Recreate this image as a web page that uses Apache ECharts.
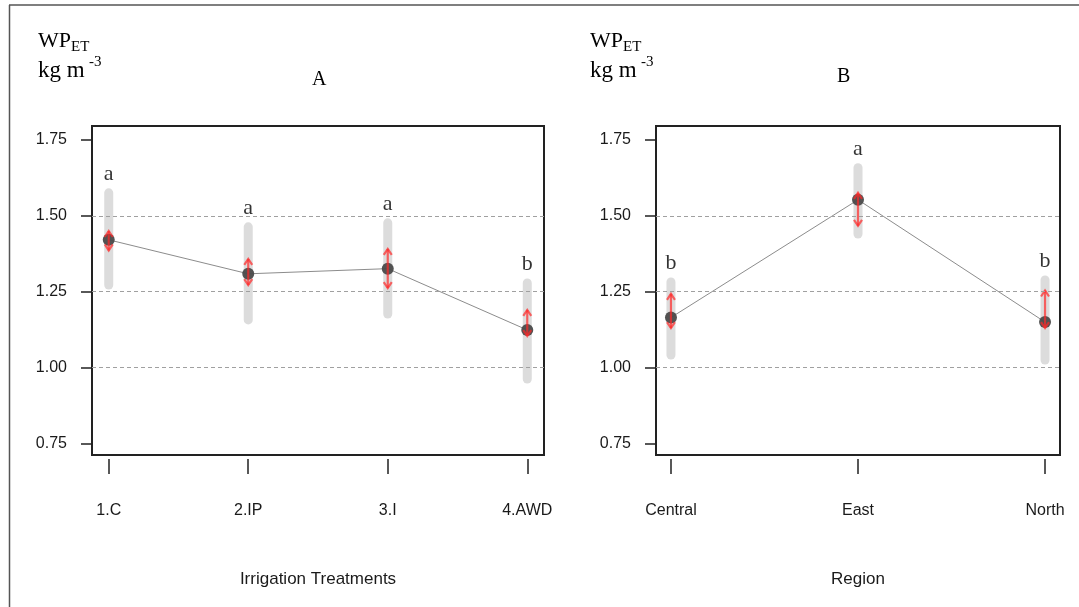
<!DOCTYPE html>
<html>
<head>
<meta charset="utf-8">
<script src="https://cdn.jsdelivr.net/npm/echarts@6/dist/echarts.min.js"></script>
<style>
  html, body { margin: 0; padding: 0; background: #fff; }
  #chart { width: 1079px; height: 607px; }
</style>
</head>
<body>
<div id="chart"></div>
<script>
// Panel A: irrigation treatments
const catsA = ['1.C', '2.IP', '3.I', '4.AWD'];
const meanA = [1.421, 1.309, 1.326, 1.124];
const ciLowA = [1.259, 1.144, 1.163, 0.949];
const ciHighA = [1.589, 1.477, 1.490, 1.292];
const arrLowA = [1.386, 1.272, 1.262, 1.104];
const arrHighA = [1.450, 1.358, 1.391, 1.190];
const lettersA = ['a', 'a', 'a', 'b'];

// Panel B: regions
const catsB = ['Central', 'East', 'North'];
const meanB = [1.165, 1.553, 1.150];
const ciLowB = [1.028, 1.427, 1.012];
const ciHighB = [1.295, 1.672, 1.302];
const arrLowB = [1.130, 1.467, 1.130];
const arrHighB = [1.243, 1.576, 1.254];
const lettersB = ['b', 'a', 'b'];

const yTicks = [0.75, 1.00, 1.25, 1.50, 1.75];
const refLines = [1.00, 1.25, 1.50];

const SANS = "'Liberation Sans', Arial, sans-serif";
const SERIF = "'Liberation Serif', 'Times New Roman', serif";

const chart = echarts.init(document.getElementById('chart'), null, { renderer: 'canvas' });

function xAxisFor(cats, gridIndex, name, labelSize, nameSize) {
  const n = cats.length;
  const pad = (n - 1) * 0.04;
  const idx = cats.map((_, i) => i + 1);
  return {
    type: 'value', gridIndex, min: 1 - pad, max: n + pad,
    offset: 4,
    axisLine: { show: false },
    axisTick: { show: true, length: 15, customValues: idx, lineStyle: { color: '#222', width: 1.5 } },
    axisLabel: {
      customValues: idx, margin: 44,
      formatter: v => cats[Math.round(v) - 1],
      fontFamily: SANS, fontSize: labelSize, color: '#1a1a1a'
    },
    splitLine: { show: false },
    name, nameLocation: 'middle', nameGap: 112,
    nameTextStyle: { fontFamily: SANS, fontSize: nameSize, color: '#1a1a1a' }
  };
}

function yAxisFor(gridIndex) {
  return {
    type: 'value', gridIndex, min: 0.712, max: 1.796,
    axisLine: { show: false },
    axisTick: { show: true, length: 11, customValues: yTicks, lineStyle: { color: '#222', width: 1.5 } },
    axisLabel: {
      customValues: yTicks, margin: 25,
      formatter: v => v.toFixed(2),
      fontFamily: SANS, fontSize: 16, color: '#1a1a1a'
    },
    splitLine: { show: false }
  };
}

// grey confidence bars
function ciRender(params, api) {
  const x = api.value(0);
  const p1 = api.coord([x, api.value(1)]);
  const p2 = api.coord([x, api.value(2)]);
  return {
    type: 'line',
    shape: { x1: p1[0], y1: p1[1] - 4, x2: p2[0], y2: p2[1] + 4 },
    style: { stroke: '#dcdcdc', lineWidth: 9, lineCap: 'round' }
  };
}

// red double-headed comparison arrows
function arrowRender(params, api) {
  const x = api.value(0);
  const lo = api.coord([x, api.value(1)]);
  const hi = api.coord([x, api.value(2)]);
  const cx = lo[0];
  const st = { stroke: 'rgba(255,40,40,0.7)', lineWidth: 2.2, fill: null };
  return {
    type: 'group',
    children: [
      { type: 'line', shape: { x1: cx, y1: lo[1], x2: cx, y2: hi[1] }, style: st },
      { type: 'polyline', shape: { points: [[cx - 4, hi[1] + 6], [cx, hi[1]], [cx + 4, hi[1] + 6]] }, style: st },
      { type: 'polyline', shape: { points: [[cx - 4, lo[1] - 6], [cx, lo[1]], [cx + 4, lo[1] - 6]] }, style: st }
    ]
  };
}

function panelSeries(k, mean, lo, hi, aLo, aHi, letters) {
  const idx = mean.map((_, i) => i + 1);
  return [
    {
      type: 'custom', xAxisIndex: k, yAxisIndex: k, z: 1,
      renderItem: ciRender,
      data: idx.map((x, i) => [x, lo[i], hi[i]])
    },
    {
      type: 'line', xAxisIndex: k, yAxisIndex: k, z: 2,
      symbol: 'none', silent: true,
      lineStyle: { color: '#8c8c8c', width: 1 },
      data: idx.map((x, i) => [x, mean[i]]),
      markLine: {
        silent: true, symbol: 'none', label: { show: false },
        lineStyle: { color: '#a0a0a0', width: 1, type: [4, 3] },
        data: refLines.map(v => ({ yAxis: v }))
      }
    },
    {
      type: 'scatter', xAxisIndex: k, yAxisIndex: k, z: 3,
      symbolSize: 12,
      itemStyle: { color: '#4a4a4a', opacity: 0.95 },
      data: idx.map((x, i) => [x, mean[i]])
    },
    {
      type: 'custom', xAxisIndex: k, yAxisIndex: k, z: 4,
      renderItem: arrowRender,
      data: idx.map((x, i) => [x, aLo[i], aHi[i]])
    },
    {
      type: 'scatter', xAxisIndex: k, yAxisIndex: k, z: 5,
      symbolSize: 1, itemStyle: { color: 'rgba(0,0,0,0)' },
      label: {
        show: true, position: 'top', distance: 3,
        formatter: p => letters[p.dataIndex],
        fontFamily: SERIF, fontSize: 22, color: '#000'
      },
      data: idx.map((x, i) => [x, hi[i]])
    }
  ];
}

function txt(x, y, text, size) {
  return {
    type: 'text', left: x, top: y,
    style: { text, font: size + 'px ' + SERIF, fill: '#000' }
  };
}

function header(dx) {
  return [
    txt(38 + dx, 30, 'WP', 22),
    txt(71 + dx, 40, 'ET', 15),
    txt(38 + dx, 59, 'kg m', 23),
    txt(89 + dx, 55, '-3', 15)
  ];
}

const option = {
  backgroundColor: '#fff',
  animation: false,
  grid: [
    { left: 92, top: 126, width: 452, height: 329, show: true, borderColor: '#222', borderWidth: 2, backgroundColor: 'transparent' },
    { left: 656, top: 126, width: 404, height: 329, show: true, borderColor: '#222', borderWidth: 2, backgroundColor: 'transparent' }
  ],
  xAxis: [
    xAxisFor(catsA, 0, 'Irrigation Treatments', 16, 17),
    xAxisFor(catsB, 1, 'Region', 16, 17)
  ],
  yAxis: [yAxisFor(0), yAxisFor(1)],
  series: [
    ...panelSeries(0, meanA, ciLowA, ciHighA, arrLowA, arrHighA, lettersA),
    ...panelSeries(1, meanB, ciLowB, ciHighB, arrLowB, arrHighB, lettersB)
  ],
  graphic: [
    // outer frame
    { type: 'line', shape: { x1: 9.5, y1: 5, x2: 9.5, y2: 607 }, style: { stroke: '#555', lineWidth: 1.5 } },
    { type: 'line', shape: { x1: 9, y1: 5, x2: 1079, y2: 5 }, style: { stroke: '#555', lineWidth: 1.5 } },
    ...header(0),
    ...header(552),
    txt(312, 70, 'A', 20),
    txt(837, 67, 'B', 20)
  ]
};

chart.setOption(option);
</script>
</body>
</html>
